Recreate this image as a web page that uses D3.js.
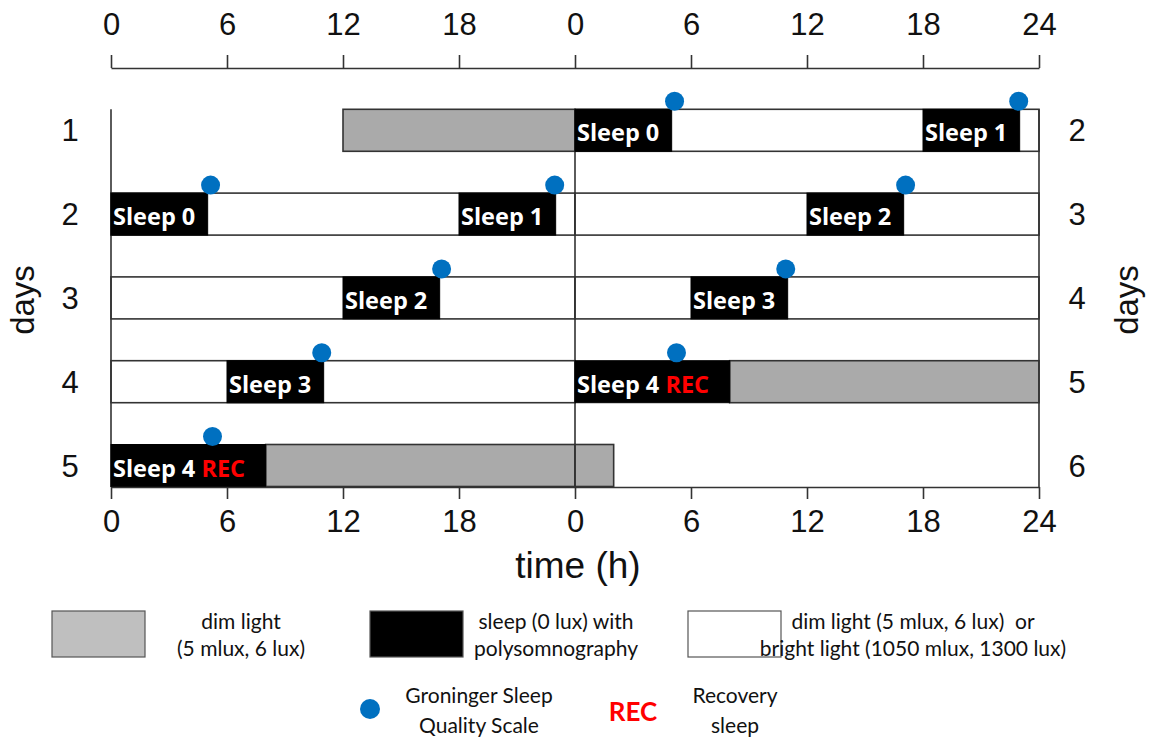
<!DOCTYPE html>
<html>
<head>
<meta charset="utf-8">
<script src="https://cdn.jsdelivr.net/npm/d3@7"></script>
<style>
  body { margin: 0; background: #fff; }
  svg { display: block; }
</style>
</head>
<body>
<div id="chart"></div>
<script>
// double plotted protocol, hours 0-24 per day
const hourTicks = [0, 6, 12, 18, 24, 30, 36, 42, 48];
const leftDays = [1, 2, 3, 4, 5];
const rightDays = [2, 3, 4, 5, 6];

// dim light blocks
const grayDay = [1, 5, 6];
const grayStart = [12, 8, 0];
const grayEnd = [24, 24, 2];

// dim or bright light (white) blocks
const whiteDay = [2, 3, 4];
const whiteStart = [0, 0, 0];
const whiteEnd = [24, 24, 24];

// sleep episodes
const sleepName = ["Sleep 0", "Sleep 1", "Sleep 2", "Sleep 3", "Sleep 4"];
const sleepDay = [2, 2, 3, 4, 5];
const sleepStart = [0, 18, 12, 6, 0];
const sleepEnd = [5, 23, 17, 11, 8];
const sleepRecovery = [false, false, false, false, true];

// Groninger sleep quality scale
const gsqsDay = [2, 2, 3, 4, 5];
const gsqsHour = [5.15, 22.95, 17.1, 10.9, 5.25];

const W = 1149, H = 740;
const rowH = 42;
const axisFont = "'Liberation Sans', Arial, sans-serif";
const legendFont = "Lato, 'Open Sans', sans-serif";

const svg = d3.select("#chart").append("svg")
  .attr("width", W).attr("height", H);

const x = d3.scaleLinear().domain([0, 48]).range([111, 1039]);
const rowTop = d3.scaleLinear().domain([1, 5]).range([109.3, 444.5]);

// turn a day based block into its one or two plotted pieces
function place(day, start, end) {
  const out = [];
  if (day <= 5) out.push({ row: day, s: start, e: end });
  if (day >= 2) out.push({ row: day - 1, s: start + 24, e: end + 24 });
  return out;
}

const whites = whiteDay.flatMap((d, i) => place(d, whiteStart[i], whiteEnd[i]));
const grays = grayDay.flatMap((d, i) => place(d, grayStart[i], grayEnd[i]));
const sleeps = sleepDay.flatMap((d, i) =>
  place(d, sleepStart[i], sleepEnd[i]).map(p => Object.assign(p, { name: sleepName[i], rec: sleepRecovery[i] })));
const dots = gsqsDay.flatMap((d, i) => place(d, gsqsHour[i], gsqsHour[i]));

const bottomY = 487;

svg.append("g").selectAll("rect").data(whites).join("rect")
  .attr("x", d => x(d.s)).attr("y", d => rowTop(d.row))
  .attr("width", d => x(d.e) - x(d.s)).attr("height", rowH)
  .attr("fill", "#fff").attr("stroke", "#333").attr("stroke-width", 1.6);

svg.append("g").selectAll("rect").data(grays).join("rect")
  .attr("x", d => x(d.s)).attr("y", d => rowTop(d.row))
  .attr("width", d => x(d.e) - x(d.s)).attr("height", rowH)
  .attr("fill", "#aaaaaa").attr("stroke", "#333").attr("stroke-width", 1.6);

// vertical frame lines at 0, 24 and 48 h
svg.append("g").selectAll("line").data([0, 24, 48]).join("line")
  .attr("x1", d => x(d)).attr("x2", d => x(d))
  .attr("y1", rowTop(1)).attr("y2", bottomY)
  .attr("stroke", "#333").attr("stroke-width", 1.6);

svg.append("g").selectAll("rect").data(sleeps).join("rect")
  .attr("x", d => x(d.s)).attr("y", d => rowTop(d.row))
  .attr("width", d => x(d.e) - x(d.s)).attr("height", rowH)
  .attr("fill", "#000").attr("stroke", "#000").attr("stroke-width", 1);

const lbl = svg.append("g").selectAll("text").data(sleeps).join("text")
  .attr("x", d => x(d.s) + 2).attr("y", d => rowTop(d.row) + 32)
  .attr("fill", "#fff")
  .style("font-family", "'Open Sans', sans-serif")
  .style("font-weight", 700).style("font-size", "23.5px");
lbl.append("tspan").text(d => d.name);
lbl.filter(d => d.rec).append("tspan").attr("fill", "#ff0000").text(" REC");

svg.append("g").selectAll("circle").data(dots).join("circle")
  .attr("cx", d => x(d.s)).attr("cy", d => rowTop(d.row) - 8)
  .attr("r", 9.5).attr("fill", "#0070c0");

// axes
const fmt = h => (h === 48 ? "24" : String(h % 24));
const topAxis = svg.append("g").attr("transform", "translate(0,68)")
  .call(d3.axisTop(x).tickValues(hourTicks).tickFormat(fmt)
    .tickSize(13).tickSizeOuter(0).tickPadding(20));
const botAxis = svg.append("g").attr("transform", `translate(0,${bottomY})`)
  .call(d3.axisBottom(x).tickValues(hourTicks).tickFormat(fmt)
    .tickSize(12).tickSizeOuter(0).tickPadding(11));
[topAxis, botAxis].forEach(g => {
  g.selectAll("path,line").attr("stroke", "#333").attr("stroke-width", 1.6);
  g.selectAll("text").attr("fill", "#111")
    .style("font-family", axisFont).style("font-size", "31px");
});

svg.append("g").selectAll("text").data(leftDays).join("text")
  .attr("x", 70).attr("y", d => rowTop(d) + rowH / 2 + 11)
  .attr("text-anchor", "middle").attr("fill", "#111")
  .style("font-family", axisFont).style("font-size", "31px")
  .text(d => d);
svg.append("g").selectAll("text").data(rightDays).join("text")
  .attr("x", 1077).attr("y", (d, i) => rowTop(i + 1) + rowH / 2 + 11)
  .attr("text-anchor", "middle").attr("fill", "#111")
  .style("font-family", axisFont).style("font-size", "31px")
  .text(d => d);

[34, 1138].forEach(bx => {
  svg.append("text")
    .attr("transform", `translate(${bx},300) rotate(-90)`)
    .attr("text-anchor", "middle").attr("fill", "#111")
    .style("font-family", axisFont).style("font-size", "33px")
    .text("days");
});

svg.append("text").attr("x", 578).attr("y", 578)
  .attr("text-anchor", "middle").attr("fill", "#111")
  .style("font-family", axisFont).style("font-size", "37px")
  .text("time (h)");

// legend
const legBoxes = [
  { x: 52, fill: "#bfbfbf", lines: ["dim light", "(5 mlux, 6 lux)"], tx: 241 },
  { x: 370, fill: "#000", lines: ["sleep (0 lux) with", "polysomnography"], tx: 556 },
  { x: 688, fill: "#fff", lines: ["dim light (5 mlux, 6 lux)  or", "bright light (1050 mlux, 1300 lux)"], tx: 913 }
];
const lg = svg.append("g");
legBoxes.forEach(b => {
  lg.append("rect").attr("x", b.x).attr("y", 611).attr("width", 93).attr("height", 46)
    .attr("fill", b.fill).attr("stroke", "#555").attr("stroke-width", 1.2);
  b.lines.forEach((t, i) => {
    lg.append("text").attr("x", b.tx).attr("y", 629 + i * 27)
      .attr("text-anchor", "middle").attr("fill", "#111")
      .style("font-family", legendFont).style("font-size", "21px")
      .style("white-space", "pre").text(t);
  });
});
lg.append("circle").attr("cx", 370).attr("cy", 709).attr("r", 10).attr("fill", "#0070c0");
["Groninger Sleep", "Quality Scale"].forEach((t, i) => {
  lg.append("text").attr("x", 479).attr("y", 703 + i * 30)
    .attr("text-anchor", "middle").attr("fill", "#111")
    .style("font-family", legendFont).style("font-size", "21px").text(t);
});
lg.append("text").attr("x", 633).attr("y", 721)
  .attr("text-anchor", "middle").attr("fill", "#ff0000")
  .style("font-family", legendFont).style("font-weight", 700).style("font-size", "26px")
  .text("REC");
["Recovery", "sleep"].forEach((t, i) => {
  lg.append("text").attr("x", 735).attr("y", 703 + i * 30)
    .attr("text-anchor", "middle").attr("fill", "#111")
    .style("font-family", legendFont).style("font-size", "21px").text(t);
});
</script>
</body>
</html>
